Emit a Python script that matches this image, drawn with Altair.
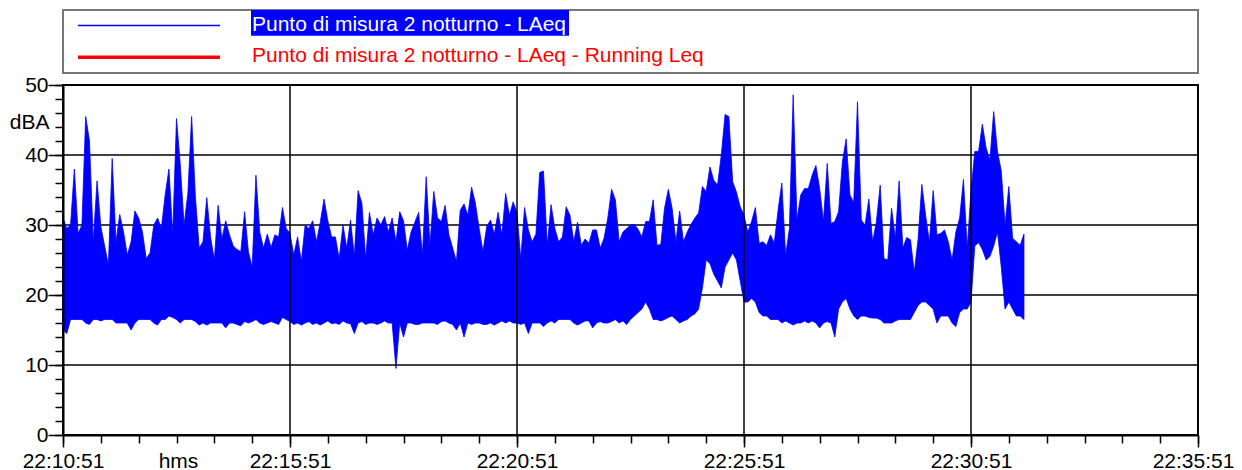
import altair as alt
import pandas as pd

# ---------------- data ----------------
step_s = 5  # seconds between envelope samples, starting at 22:10:51

hi = [31, 29.5, 30, 38, 28.8, 30, 45.5, 42, 27.6, 36.3, 29.8, 27, 24.3, 39.5, 27.6,
      31.5, 29, 25.7, 27.6, 32, 31, 29, 25.2, 26, 30, 31, 29.5, 34.3, 38, 28.6,
      45.2, 38.6, 30, 34.5, 45.5, 34, 26.7, 27.6, 33.9, 28.3, 25, 32.8, 28, 30.6, 28.6,
      27, 26.5, 26.2, 31.9, 26.2, 24, 37.1, 29, 26.7, 28.7, 26.8, 28.6, 28.3, 32.5,
      29.5, 28.8, 25.7, 28.3, 24.8, 30, 29.5, 30.6, 27.6, 30.4, 33.7, 30.6, 28.3, 28.3,
      25.2, 30, 26.7, 30.7, 25.5, 34.9, 33.1, 25.2, 31.8, 28.6, 31, 30, 31.2, 29, 31,
      27.6, 31.9, 30.6, 26.4, 29, 30.4, 31.8, 25.7, 36.9, 27.1, 34.8, 31, 30.5, 32.8,
      28.6, 26.7, 24.8, 32.1, 33, 31.4, 35.4, 33.1, 29.5, 26.2, 29.8, 30.7, 28.7, 31.8,
      28.6, 34.5, 31.4, 33.3, 31.7, 25.2, 32.5, 29.3, 27.6, 28.7, 37.5, 37.7, 27.1,
      32.9, 29.5, 27.6,
      28.3, 32.6, 31.4, 27.6, 30.4, 27.1, 28, 27.4, 29.3, 29.3, 26.7, 28.1, 31, 35.1,
      33.6, 27.6, 29, 29.5, 30, 30.1, 29.4, 28.3, 30.5, 30.5, 33.6, 27.1, 27.2, 32.4,
      35.1, 32.4, 27.6, 32, 27.6, 29, 30.1, 31, 31.7, 35.5, 34.8, 38.3, 36.4, 35.7, 40,
      45.8, 45.5, 36.2, 34.7, 32.6, 31.4, 29, 30.5, 32.5, 27.4, 27.6, 27.1, 28.6, 27.4,
      32.1, 36, 25.6, 29.5, 48.6, 30.7, 34.3, 35.2, 35.2, 37.1, 38.5, 35.2, 30.5, 38.8,
      30.2, 30.5, 31.9, 39, 42.3, 34.3, 33.2, 47.6, 30.7, 30, 33.7, 27.6, 30.5, 35.7, 25.2,
      25, 32.4, 28.1, 36.3, 26.7, 28.2, 27.9, 23.3, 27.9, 35.8, 31.4, 27.6, 34.9, 28.6,
      28.8, 29.3, 27.6, 25, 29, 31, 36.5, 26.7, 34.8, 40.5, 40.5, 44.4, 41, 39.3, 46.2,
      40.5, 37.7, 30, 35.5, 28.1, 27.6, 27.1, 28.7]

lo = [15, 14.5, 16.5, 16.5, 16.5, 16.5, 16, 15.8, 16.5, 16.5, 16.3, 16.5, 16.5, 16.5, 16,
      16, 16, 16, 15, 16, 16.5, 16.5, 16.5, 16.5, 16, 15.7, 16.5, 16.5, 17, 16.8,
      16.5, 16, 16.5, 16.5, 16.5, 16.2, 15.7, 16, 15.7, 16, 16, 16, 16, 15.3, 16,
      16, 15.8, 15.6, 16.2, 16, 16.2, 16.5, 16, 15.8, 16, 16.2, 16, 15.8, 16.8,
      16.5, 16.2, 15.8, 16, 15.7, 16, 16.2, 15.8, 16, 15.7, 16, 16.3, 15.9, 16,
      15.8, 16.3, 16, 15.9, 14.5, 16, 16.2, 15.8, 16, 16, 15.8, 16, 16.3, 16, 16,
      9.5, 16, 14, 16, 16, 15.8, 15.8, 16, 16, 16, 16, 15.8, 16.2, 16.3,
      16, 15.8, 15, 16, 14, 16, 15.8, 16, 16, 15.8, 15.8, 16, 15.7, 16,
      16.3, 16, 16.3, 16, 16, 15.8, 16, 14.5, 16, 16, 16, 15.5, 16,
      16.3, 16, 16.5,
      16.5, 16.5, 16.5, 16, 15.7, 16, 16.3, 16.3, 15.3, 16, 16.2, 16, 16, 16.2,
      16.5, 16, 16.3, 15.8, 16.5, 17, 17.5, 18, 19, 18, 16.5, 16.5, 16.3, 16.5,
      16.8, 17, 16.5, 16, 16.3, 16.5, 17, 17.3, 18, 21, 25, 24.5, 23, 22, 21,
      24, 25, 26, 25, 22, 19, 19, 19.5, 19, 17.5, 17, 17, 16.5, 16.5,
      16.5, 16, 16.3, 16, 15.7, 16, 16, 16.3, 16, 16.3, 16, 15.3, 16, 16.2,
      16, 14, 18, 19, 19.5, 18, 17, 16.5, 17, 17, 16.8, 16.7, 16.7, 16.5, 16,
      16, 16, 16.3, 16.5, 16.5, 16.5, 16.5, 17.5, 18.5, 19, 19, 18.5, 18, 16,
      17, 17, 17, 16, 15.5, 17.5, 18, 18, 19, 27, 27.5, 26.5, 25, 25.5, 27,
      29, 24, 18, 19, 18, 17, 17, 16.5]

t = [i * step_s for i in range(len(hi))]

x_major = [0, 300, 600, 900, 1200, 1500]
x_labels = ["22:10:51", "22:15:51", "22:20:51", "22:25:51", "22:30:51", "22:35:51"]
x_minor = list(range(0, 1501, 50))
x_grid = [300, 600, 900, 1200]
y_major = [0, 10, 20, 30, 40, 50]
y_minor = list(range(0, 51, 2))
y_grid = [10, 20, 30, 40]

series_names = ["Punto di misura 2 notturno - LAeq",
                "Punto di misura 2 notturno - LAeq - Running Leq"]
series_colors = ["#0000FF", "#FF0000"]

# ---------------- chart ----------------
W, H = 1135, 350
FONT = "Liberation Sans"
xscale = alt.Scale(domain=[0, 1500], nice=False, zero=False)
yscale = alt.Scale(domain=[0, 50], nice=False, zero=False)

label_expr = "[" + ",".join("'%s'" % s for s in x_labels) + "][round(datum.value/300)]"

x_axis_major = alt.Axis(orient="bottom", values=x_major, labelExpr=label_expr,
                        tickSize=12, tickWidth=1.5, tickColor="black",
                        labelFontSize=21, labelColor="black", labelPadding=3,
                        labelOffset={"condition": {"test": "datum.value >= 1500",
                                                   "value": -5}, "value": 0},
                        labelFont=FONT, labelFlush=False, labelOverlap=False,
                        domain=True, domainColor="black", domainWidth=2, grid=False,
                        title="hms", titleFont=FONT, titleFontSize=21,
                        titleFontWeight="normal", titleColor="black",
                        titleX=115, titleY=32, titleAlign="center",
                        titleBaseline="alphabetic", zindex=1)
y_axis_major = alt.Axis(orient="left", values=y_major, tickSize=15, tickWidth=1.5,
                        tickColor="black", labelFontSize=21, labelColor="black",
                        labelPadding=0, labelFont=FONT, labelFlush=False,
                        labelOverlap=False,
                        domain=True, domainColor="black", domainWidth=2, grid=False,
                        title="dBA", titleFont=FONT, titleFontSize=21,
                        titleFontWeight="normal", titleColor="black", titleAngle=0,
                        titleX=-14, titleY=43, titleAlign="right",
                        titleBaseline="alphabetic", zindex=1)
x_axis_minor = alt.Axis(orient="bottom", values=x_minor, tickSize=8, tickWidth=1.5,
                        tickColor="black", labels=False, domain=False, grid=False,
                        title=None, zindex=1)
y_axis_minor = alt.Axis(orient="left", values=y_minor, tickSize=8, tickWidth=1.5,
                        tickColor="black", labels=False, domain=False, grid=False,
                        title=None, zindex=1)

df = pd.DataFrame({"t": t, "lo": lo, "hi": hi})

hgrid = alt.Chart(pd.DataFrame({"v": y_grid})).mark_rule(
    color="black", strokeWidth=1.5).encode(
    y=alt.Y("v:Q", scale=yscale, axis=y_axis_minor))

area = alt.Chart(df).mark_area(
    color="#0000FF", stroke="#0000FF", strokeWidth=0.8, opacity=1).encode(
    x=alt.X("t:Q", scale=xscale, axis=x_axis_major),
    y=alt.Y("lo:Q", scale=yscale, axis=y_axis_major),
    y2="hi:Q")

vgrid = alt.Chart(pd.DataFrame({"v": x_grid})).mark_rule(
    color="black", strokeWidth=1.5).encode(
    x=alt.X("v:Q", scale=xscale, axis=x_axis_minor))

# legend box (drawn above the plot area)
leg_df = pd.DataFrame({"name": series_names, "color": series_colors})
leg_box = alt.Chart(leg_df.head(1)).mark_rect(
    fill="white", stroke="#777777", strokeWidth=2).encode(
    x=alt.value(0), x2=alt.value(W), y=alt.value(-75), y2=alt.value(-12))
leg_line1 = alt.Chart(leg_df.iloc[[0]]).mark_rule(
    stroke=series_colors[0], strokeWidth=1.5).encode(
    x=alt.value(15), x2=alt.value(157), y=alt.value(-59.5))
leg_line2 = alt.Chart(leg_df.iloc[[1]]).mark_rule(
    stroke=series_colors[1], strokeWidth=3.5).encode(
    x=alt.value(15), x2=alt.value(157), y=alt.value(-27.7))
leg_hl = alt.Chart(leg_df.iloc[[0]]).mark_rect(fill=series_colors[0]).encode(
    x=alt.value(188), x2=alt.value(506), y=alt.value(-75), y2=alt.value(-49.3))
leg_txt1 = alt.Chart(leg_df.iloc[[0]]).mark_text(
    align="left", baseline="alphabetic", font=FONT, fontSize=21, color="white").encode(
    x=alt.value(189), y=alt.value(-54), text="name:N")
leg_txt2 = alt.Chart(leg_df.iloc[[1]]).mark_text(
    align="left", baseline="alphabetic", font=FONT, fontSize=21,
    color=series_colors[1]).encode(
    x=alt.value(189), y=alt.value(-23.5), text="name:N")

chart = alt.layer(
    hgrid, area, vgrid, leg_box, leg_line1, leg_line2, leg_hl, leg_txt1, leg_txt2
).resolve_axis(x="independent", y="independent").properties(
    width=W, height=H,
    padding={"left": 55, "top": 77, "right": 36, "bottom": 35},
    autosize=alt.AutoSizeParams(type="none"),
    background="white",
).configure(font=FONT).configure_view(stroke="black", strokeWidth=2)

chart.save("out.html", embed_options={"renderer": "svg", "actions": False})
